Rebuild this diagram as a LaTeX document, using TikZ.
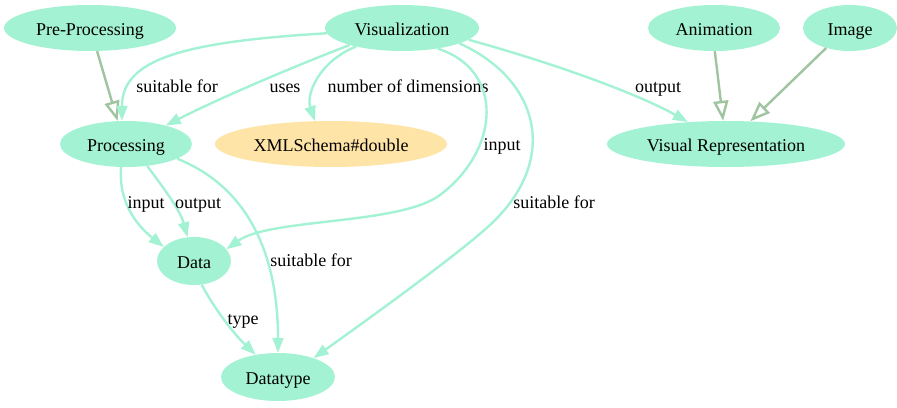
\documentclass[tikz,border=0pt]{standalone}
\usepackage{fontspec}
\setmainfont{Liberation Serif}
\usetikzlibrary{shapes.geometric,arrows.meta}
\definecolor{mint}{RGB}{163,242,212}
\definecolor{sand}{RGB}{255,228,168}
\definecolor{sage}{RGB}{160,196,160}
\tikzset{
	cls/.style={ellipse, fill=mint, inner xsep=-25pt, inner ysep=0pt, minimum height=46pt, text height=18pt, text depth=4pt, font=\fontsize{18}{20}\selectfont},
	lit/.style={cls, fill=sand},
	rel/.style={mint, line width=2.4pt, -{Triangle[length=15pt,width=11pt]}},
	isa/.style={sage, line width=2.4pt, -{Triangle[open,length=20pt,width=15pt]}},
	lbl/.style={text=black, inner sep=0pt, text height=14pt, text depth=4pt, font=\fontsize{18}{20}\selectfont}
}
\begin{document}
\begin{tikzpicture}[x=1pt,y=-1pt]
		\useasboundingbox (0,0) rectangle (897,407);

		% классы
		\node [cls, minimum width=172pt] (pre)    at ( 90, 28) {Pre-Processing};
		\node [cls, minimum width=154pt] (vis)    at (402, 28) {Visualization};
		\node [cls, minimum width=132pt] (anim)   at (714, 28) {Animation};
		\node [cls, minimum width= 94pt] (img)    at (850, 28) {Image};
		\node [cls, minimum width=132pt] (proc)   at (126,144) {Processing};
		\node [lit, minimum width=232pt] (xml)    at (331,144) {XMLSchema\#double};
		\node [cls, minimum width=238pt] (visrep) at (726,144) {Visual Representation};
		\node [cls, minimum width= 74pt, minimum height=48pt] (data) at (194,261) {Data};
		\node [cls, minimum width=114pt, minimum height=48pt] (dt)   at (278,377) {Datatype};

		% наследование
		\draw [isa] (pre.-73) -- (proc.110);
		\draw [isa] (anim.-88) -- (visrep.97);
		\draw [isa] (img.-140) -- (visrep.43);

		% связи Visualization
		\draw [rel] (vis.184) .. controls (180,42) and (122,60) .. (proc.100) node [lbl] at (177,87) {suitable for};
		\draw [rel] (vis.198) .. controls (290,68) and (220,98) .. (proc.25) node [lbl] at (285,87) {uses};
		\draw [rel] (vis.202) .. controls (318,62) and (306,95) .. (xml.125) node [lbl] at (408,87) {number of dimensions};
		\draw [rel] (vis.-30) .. controls (505,70) and (500,150) .. (440,195) .. controls (400,225) and (270,218) .. (data.20) node [lbl] at (502,145) {input};
		\draw [rel] (vis.-15) .. controls (540,80) and (560,160) .. (490,225) .. controls (455,257) and (360,325) .. (dt.28) node [lbl] at (554,203) {suitable for};
		\draw [rel] (vis.-10) .. controls (560,65) and (640,95) .. (visrep.150) node [lbl] at (658,87) {output};

		% связи Processing и Data
		\draw [rel] (proc.-102) .. controls (118,205) and (140,228) .. (data.155) node [lbl] at (146,203) {input};
		\draw [rel] (proc.-46) .. controls (165,190) and (180,210) .. (data.105) node [lbl] at (198,203) {output};
		\draw [rel] (proc.-16) .. controls (255,190) and (278,265) .. (dt.90) node [lbl] at (311,261) {suitable for};
		\draw [rel] (data.-72) .. controls (215,310) and (235,335) .. (dt.135) node [lbl] at (243,319) {type};
	\end{tikzpicture}
\end{document}
